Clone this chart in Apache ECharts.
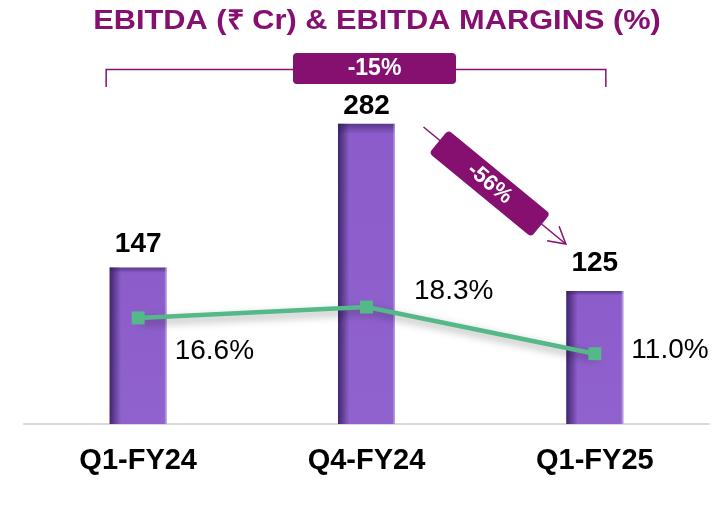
<!DOCTYPE html>
<html>
<head>
<meta charset="utf-8">
<script src="https://cdn.jsdelivr.net/npm/echarts@6/dist/echarts.min.js"></script>
<style>
  html, body { margin: 0; padding: 0; background: #fff; }
  #chart { width: 713px; height: 509px; }
</style>
</head>
<body>
<div id="chart"></div>
<script>
// 数据
const categories = ["Q1-FY24", "Q4-FY24", "Q1-FY25"];
const ebitda = [147, 282, 125];
const margins = [16.6, 18.3, 11.0];
const labelGap = [9, 3, 14]; // 柱顶标签与柱子的距离
const marginOffsets = [[25, 33], [36, -16], [25, -3]];

const FONT = '"Liberation Sans", Arial, Helvetica, sans-serif';
const PURPLE = "#86106f";

let chart = echarts.init(document.getElementById("chart"));

let option = {
  animation: false,
  grid: { left: 24, right: 4, top: 104.5, bottom: 85 },
  xAxis: {
    type: "category",
    data: categories,
    axisLine: { lineStyle: { color: "#d9d9d9", width: 2 } },
    axisTick: { show: false },
    axisLabel: {
      margin: 22,
      color: "#000",
      fontSize: 29,
      fontWeight: "bold",
      fontFamily: FONT,
    },
  },
  yAxis: [
    { type: "value", min: 0, max: 300, show: false },
    { type: "value", min: 0, max: 50, show: false },
  ],
  series: [
    {
      name: "EBITDA",
      type: "bar",
      barWidth: 57,
      data: ebitda.map((v, i) => ({
        value: v,
        label: { distance: labelGap[i] },
      })),
      itemStyle: {
        color: new echarts.graphic.LinearGradient(0, 0, 0, 1, [
          { offset: 0, color: "#573889" },
          { offset: 0.035, color: "#8c5dca" },
          { offset: 1, color: "#9062ce" },
        ]),
      },
      label: {
        show: true,
        position: "top",
        color: "#000",
        fontSize: 28,
        fontWeight: "bold",
        fontFamily: FONT,
      },
    },
    {
      // 柱子左侧阴影
      name: "shade",
      type: "bar",
      barWidth: 57,
      barGap: "-100%",
      silent: true,
      data: ebitda,
      itemStyle: {
        color: new echarts.graphic.LinearGradient(0, 0, 1, 0, [
          { offset: 0, color: "rgba(45,22,85,0.8)" },
          { offset: 0.2, color: "rgba(45,22,85,0)" },
          { offset: 0.96, color: "rgba(255,255,255,0)" },
          { offset: 1, color: "rgba(205,185,240,0.7)" },
        ]),
      },
    },
    {
      name: "EBITDA Margin",
      type: "line",
      yAxisIndex: 1,
      z: 5,
      symbol: "rect",
      symbolSize: 13,
      data: margins.map((v, i) => ({
        value: v,
        label: { offset: marginOffsets[i] },
      })),
      itemStyle: { color: "#55b889" },
      lineStyle: {
        color: "#55b889",
        width: 4.5,
        shadowColor: "rgba(0,0,0,0.35)",
        shadowBlur: 8,
        shadowOffsetX: 2,
        shadowOffsetY: 4,
      },
      label: {
        show: true,
        position: "right",
        color: "#000",
        fontSize: 28,
        fontFamily: FONT,
        formatter: (p) => p.value.toFixed(1) + "%",
      },
    },
  ],
};
chart.setOption(option);

// 注释：标题、-15% 括号、-56% 箭头
const cx = categories.map((d) => chart.convertToPixel({ xAxisIndex: 0 }, d));
const bL = cx[0] - 32, bR = cx[2] + 11;
const boxC = (cx[0] + cx[2]) / 2 + 8;
const a0 = [cx[1] + 57, 127], a1 = [cx[2] - 29, 244];
const ang = Math.atan2(a1[1] - a0[1], a1[0] - a0[0]);
const mid = [(a0[0] + a1[0]) / 2 - 5, (a0[1] + a1[1]) / 2 - 2];
const head = (d) => [a1[0] - 19 * Math.cos(ang + d), a1[1] - 19 * Math.sin(ang + d)];

chart.setOption({
  graphic: [
    {
      type: "text",
      x: 377,
      y: 22,
      scaleX: 1.14,
      style: {
        text: "EBITDA (₹ Cr) & EBITDA MARGINS (%)",
        fill: PURPLE,
        font: "bold 27px " + FONT,
        textAlign: "center",
        textVerticalAlign: "middle",
      },
    },
    {
      type: "polyline",
      shape: { points: [[bL, 87], [bL, 69.5], [bR, 69.5], [bR, 87]] },
      style: { stroke: PURPLE, lineWidth: 1.5, fill: null },
    },
    {
      type: "rect",
      shape: { x: boxC - 81.5, y: 53, width: 163, height: 31, r: 4 },
      style: { fill: PURPLE },
    },
    {
      type: "text",
      x: boxC,
      y: 69,
      style: {
        text: "-15%",
        fill: "#fff",
        font: "bold 23px " + FONT,
        textAlign: "center",
        textVerticalAlign: "middle",
      },
    },
    {
      type: "polyline",
      shape: { points: [a0, a1] },
      style: { stroke: PURPLE, lineWidth: 1.5, fill: null },
    },
    {
      type: "polyline",
      shape: { points: [head(0.52), a1, head(-0.52)] },
      style: { stroke: PURPLE, lineWidth: 1.5, fill: null },
    },
    {
      type: "group",
      x: mid[0],
      y: mid[1],
      rotation: -ang,
      children: [
        {
          type: "rect",
          shape: { x: -66, y: -15, width: 132, height: 30, r: 4 },
          style: { fill: PURPLE },
        },
        {
          type: "text",
          x: 0,
          y: 0,
          style: {
            text: "-56%",
            fill: "#fff",
            font: "bold 22px " + FONT,
            textAlign: "center",
            textVerticalAlign: "middle",
          },
        },
      ],
    },
  ],
});
</script>
</body>
</html>
